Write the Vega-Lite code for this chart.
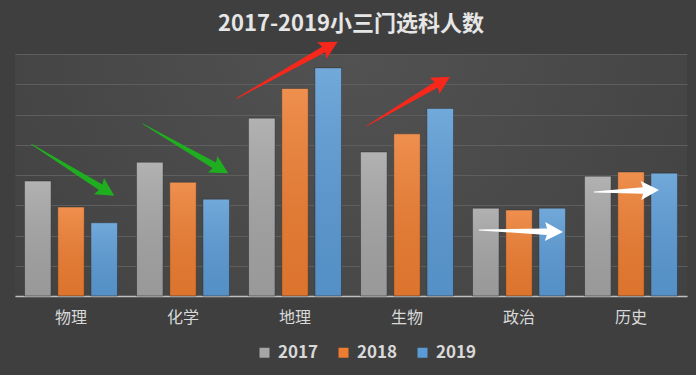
{
  "$schema": "https://vega.github.io/schema/vega-lite/v6.json",
  "width": 672,
  "height": 242,
  "autosize": {"type": "none"},
  "padding": {"left": 15, "top": 54, "right": 9, "bottom": 79},
  "background": "#3f3f3f",
  "title": {
    "text": "2017-2019小三门选科人数",
    "fontSize": 22,
    "fontWeight": "bold",
    "color": "#e6e6e6",
    "font": "Noto Sans CJK SC",
    "anchor": "middle",
    "offset": 6
  },
  "config": {
    "view": {
      "stroke": null,
      "fill": {
        "gradient": "radial",
        "x1": 0.5, "y1": 0.3, "r1": 0,
        "x2": 0.5, "y2": 0.3, "r2": 0.8,
        "stops": [
          {"offset": 0, "color": "#525252"},
          {"offset": 1, "color": "#3d3d3d"}
        ]
      }
    },
    "axisY": {
      "title": null, "labels": false, "ticks": false, "domain": false,
      "grid": true, "gridColor": "#5e5e5e", "gridWidth": 1, "labelOverlap": false,
      "values": [50, 100, 150, 200, 250, 300, 350, 400]
    },
    "font": "Noto Sans CJK SC"
  },
  "datasets": {
    "arrows": [
      {"arrow": "g1", "trend": "down", "pt": 1, "x": 0.149, "y": 250.7},
      {"arrow": "g1", "trend": "down", "pt": 2, "x": 0.765, "y": 179.8},
      {"arrow": "g2", "trend": "down", "pt": 1, "x": 1.143, "y": 284.3},
      {"arrow": "g2", "trend": "down", "pt": 2, "x": 1.78, "y": 216.0},
      {"arrow": "r1", "trend": "up", "pt": 1, "x": 1.979, "y": 326.8},
      {"arrow": "r1", "trend": "up", "pt": 2, "x": 2.756, "y": 407.4},
      {"arrow": "r2", "trend": "up", "pt": 1, "x": 3.14, "y": 281.0},
      {"arrow": "r2", "trend": "up", "pt": 2, "x": 3.761, "y": 349.1},
      {"arrow": "w1", "trend": "flat", "pt": 1, "x": 4.143, "y": 109.1},
      {"arrow": "w1", "trend": "flat", "pt": 2, "x": 4.75, "y": 106.4},
      {"arrow": "w2", "trend": "flat", "pt": 1, "x": 5.17, "y": 171.9},
      {"arrow": "w2", "trend": "flat", "pt": 2, "x": 5.607, "y": 174.5}
    ],
    "counts": [
      {"subject": "物理", "year": "2017", "count": 190},
      {"subject": "物理", "year": "2018", "count": 147},
      {"subject": "物理", "year": "2019", "count": 121},
      {"subject": "化学", "year": "2017", "count": 221},
      {"subject": "化学", "year": "2018", "count": 188},
      {"subject": "化学", "year": "2019", "count": 160},
      {"subject": "地理", "year": "2017", "count": 294},
      {"subject": "地理", "year": "2018", "count": 343},
      {"subject": "地理", "year": "2019", "count": 377},
      {"subject": "生物", "year": "2017", "count": 238},
      {"subject": "生物", "year": "2018", "count": 268},
      {"subject": "生物", "year": "2019", "count": 310},
      {"subject": "政治", "year": "2017", "count": 145},
      {"subject": "政治", "year": "2018", "count": 142},
      {"subject": "政治", "year": "2019", "count": 145},
      {"subject": "历史", "year": "2017", "count": 198},
      {"subject": "历史", "year": "2018", "count": 205},
      {"subject": "历史", "year": "2019", "count": 203}
    ]
  },
  "layer": [
    {
      "data": {"name": "counts"},
      "encoding": {
        "x": {
          "field": "subject", "type": "nominal", "sort": null,
          "scale": {"paddingInner": 0.17, "paddingOuter": 0.085},
          "axis": {
            "title": null, "labelAngle": 0, "ticks": false,
            "labelFontSize": 16, "labelColor": "#d9d9d9", "labelPadding": 13,
            "domainColor": "#bfbfbf", "domainWidth": 1.5, "grid": false
          }
        },
        "xOffset": {"field": "year", "type": "nominal", "scale": {"paddingInner": 0.2}},
        "y": {
          "field": "count", "type": "quantitative",
          "scale": {"domain": [0, 400], "nice": false}
        }
      },
      "layer": [
        {
          "mark": {"type": "bar", "stroke": "#2a2a2a", "strokeOpacity": 0.5, "strokeWidth": 1},
          "encoding": {
            "color": {
              "field": "year", "type": "nominal",
              "scale": {"domain": ["2017", "2018", "2019"], "range": ["#a5a5a5", "#ed7d31", "#5b9bd5"]},
              "legend": {
                "title": null, "orient": "none", "direction": "horizontal",
                "legendX": 241, "legendY": 290,
                "symbolType": "square", "symbolSize": 100, "symbolStrokeWidth": 0,
                "labelFontSize": 17, "labelFontWeight": "bold", "labelColor": "#d9d9d9",
                "labelOffset": 5, "columnPadding": 16, "padding": 0
              }
            }
          }
        },
        {
          "mark": {
            "type": "bar",
            "fill": {
              "gradient": "linear", "x1": 0, "y1": 0, "x2": 0, "y2": 1,
              "stops": [
                {"offset": 0, "color": "rgba(255,255,255,0.14)"},
                {"offset": 1, "color": "rgba(0,0,0,0.07)"}
              ]
            }
          },
          "encoding": {}
        }
      ]
    },
    {
      "data": {"name": "arrows"},
      "mark": {"type": "trail"},
      "encoding": {
        "x": {"field": "x", "type": "quantitative", "scale": {"domain": [0, 6], "nice": false, "zero": false}, "axis": null},
        "y": {"field": "y", "type": "quantitative"},
        "detail": {"field": "arrow"},
        "order": {"field": "pt", "type": "quantitative"},
        "size": {"field": "pt", "type": "quantitative", "scale": {"domain": [1, 2], "range": [0.8, 6.5], "zero": false}, "legend": null},
        "color": {
          "field": "trend", "type": "nominal",
          "scale": {"domain": ["down", "up", "flat"], "range": ["#1fae1f", "#f5281b", "#ffffff"]},
          "legend": null
        }
      }
    },
    {
      "data": {"name": "arrows"},
      "transform": [
        {"window": [{"op": "lag", "field": "x", "as": "px"}, {"op": "lag", "field": "y", "as": "py"}], "groupby": ["arrow"], "sort": [{"field": "pt"}]},
        {"filter": "datum.pt == 2"},
        {"calculate": "atan2(-(datum.y - datum.py) * 0.605, (datum.x - datum.px) * 112) * 180 / PI", "as": "ang"}
      ],
      "mark": {"type": "point", "filled": true, "opacity": 1, "size": 400, "shape": "M1.6,0L-0.2,-0.95L0.1,0L-0.2,0.95Z"},
      "encoding": {
        "x": {"field": "x", "type": "quantitative", "scale": {"domain": [0, 6], "nice": false, "zero": false}, "axis": null},
        "y": {"field": "y", "type": "quantitative"},
        "angle": {"field": "ang", "type": "quantitative", "scale": null},
        "color": {
          "field": "trend", "type": "nominal",
          "scale": {"domain": ["down", "up", "flat"], "range": ["#1fae1f", "#f5281b", "#ffffff"]},
          "legend": null
        }
      }
    }
  ],
  "resolve": {"scale": {"x": "independent", "color": "independent", "size": "independent"}, "axis": {"x": "independent"}}
}
